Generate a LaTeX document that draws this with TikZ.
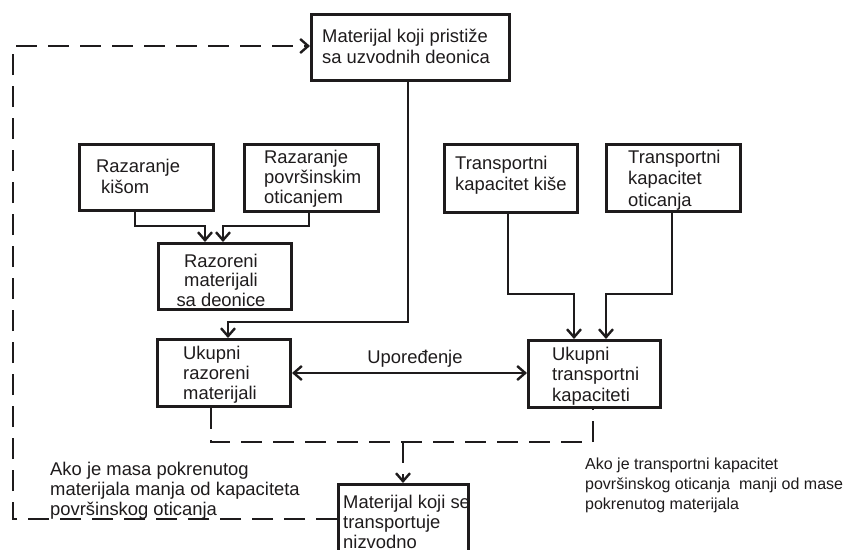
\documentclass[tikz,border=0pt]{standalone}
\usepackage{fontspec}
\setmainfont{Liberation Sans}
\usetikzlibrary{arrows.meta}
\definecolor{ink}{RGB}{30,27,28}
\newcommand{\lines}[1]{\begin{tabular}[t]{@{}l@{}}#1\end{tabular}}
\newcommand{\clines}[1]{\begin{tabular}[t]{@{}c@{}}#1\end{tabular}}
\begin{document}
\begin{tikzpicture}[x=1pt,y=-1pt,
  box/.style={draw=ink,line width=3pt,fill=white,inner sep=0pt,anchor=north west},
  txt/.style={inner sep=0pt,anchor=base west,text=ink,font=\fontsize{18.4}{20}\selectfont},
  ntxt/.style={inner sep=0pt,anchor=base west,text=ink,font=\fontsize{16}{20}\selectfont},
  ctxt/.style={inner sep=0pt,anchor=base,text=ink,font=\fontsize{18.4}{20}\selectfont},
  conn/.style={draw=ink,line width=2.4pt},
  arr/.style={conn,-{Straight Barb[length=8pt,width=14pt,line width=2.4pt]}},
  darr/.style={conn,{Straight Barb[length=8pt,width=14pt,line width=2.4pt]}-{Straight Barb[length=8pt,width=14pt,line width=2.4pt]}},
  dashln/.style={draw=ink,line width=2.6pt,dash pattern=on 21pt off 11pt}
]
\useasboundingbox (0,0) rectangle (854,549);
\clip (0,0) rectangle (854,549);
\fill[white] (0,0) rectangle (854,549);

% boxes
\node[box,minimum width=198pt,minimum height=66pt] (top) at (310,13) {};
\node[box,minimum width=134pt,minimum height=66pt] (rk) at (78,143) {};
\node[box,minimum width=134pt,minimum height=67pt] (rp) at (243,143) {};
\node[box,minimum width=133pt,minimum height=66pt] (rm) at (157,242) {};
\node[box,minimum width=133pt,minimum height=67pt] (ur) at (156,338) {};
\node[box,minimum width=133pt,minimum height=68pt] (tk) at (443,143) {};
\node[box,minimum width=134pt,minimum height=67pt] (tocn) at (605,143) {};
\node[box,minimum width=132pt,minimum height=67pt] (ut) at (527,339) {};
\node[box,minimum width=130pt,minimum height=90pt] (mt) at (337,483) {};

% texts
\node[txt] (ttop) at (322,42) {\fontsize{18.4}{21}\selectfont\lines{Materijal koji pristiže\\sa uzvodnih deonica}};
\node[txt] (trk1) at (96,172) {Razaranje};
\node[txt] (trk2) at (101,193) {kišom};
\node[txt] (trp) at (264,163) {\lines{Razaranje\\površinskim\\oticanjem}};
\node[ctxt] (trm) at (221,267) {\fontsize{18.4}{19.5}\selectfont\clines{Razoreni\\materijali\\sa deonice}};
\node[txt] (tur) at (183,359) {\lines{Ukupni\\razoreni\\materijali}};
\node[txt] (ttk) at (455,169) {\fontsize{18.4}{21}\selectfont\lines{Transportni\\kapacitet kiše}};
\node[txt] (tto) at (628,163) {\fontsize{18.4}{21.5}\selectfont\lines{Transportni\\kapacitet\\oticanja}};
\node[txt] (tut) at (552,360) {\fontsize{18.4}{20.5}\selectfont\lines{Ukupni\\transportni\\kapaciteti}};
\node[txt] (tmt) at (343,508) {\lines{Materijal koji se\\transportuje\\nizvodno}};
\node[ctxt] (tcmp) at (415,363) {Upoređenje};
\node[txt] (tnl) at (50,475) {\lines{Ako je masa pokrenutog\\materijala manja od kapaciteta\\površinskog oticanja}};
\node[ntxt] (tnr) at (585,469) {\lines{Ako je transportni kapacitet\\površinskog oticanja\ \ manji od mase\\pokrenutog materijala}};

% solid connectors
\draw[arr] (top.south -| 408,0) -- (408,322) -- (228,322) -- (ur.north -| 228,0);
\draw[arr] (rk.south -| 135,0) -- (135,226) -- (205,226) -- (rm.north -| 205,0);
\draw[arr] (rp.south -| 309,0) -- (309,226) -- (223,226) -- (rm.north -| 223,0);
\draw[arr] (tk.south -| 508,0) -- (508,294) -- (574,294) -- (ut.north -| 574,0);
\draw[arr] (tocn.south -| 672,0) -- (672,294) -- (606,294) -- (ut.north -| 606,0);
\draw[darr] (ur.east |- 0,373) -- (ut.west |- 0,373);

% dashed connectors
\coordinate (j) at (403,442);
\draw[dashln] (ur.south -| 211,0) -- (211,442) -- (593,442) -- (ut.south -| 593,0);
\draw[dashln,-{Straight Barb[length=8pt,width=14pt,line width=2.4pt]}] (j) -- (mt.north -| j);
\draw[dashln,-{Straight Barb[length=8pt,width=14pt,line width=2.4pt]}] (mt.west |- 0,519) -- (13,519) -- (13,46) -- (top.west |- 0,46);
\end{tikzpicture}
\end{document}
